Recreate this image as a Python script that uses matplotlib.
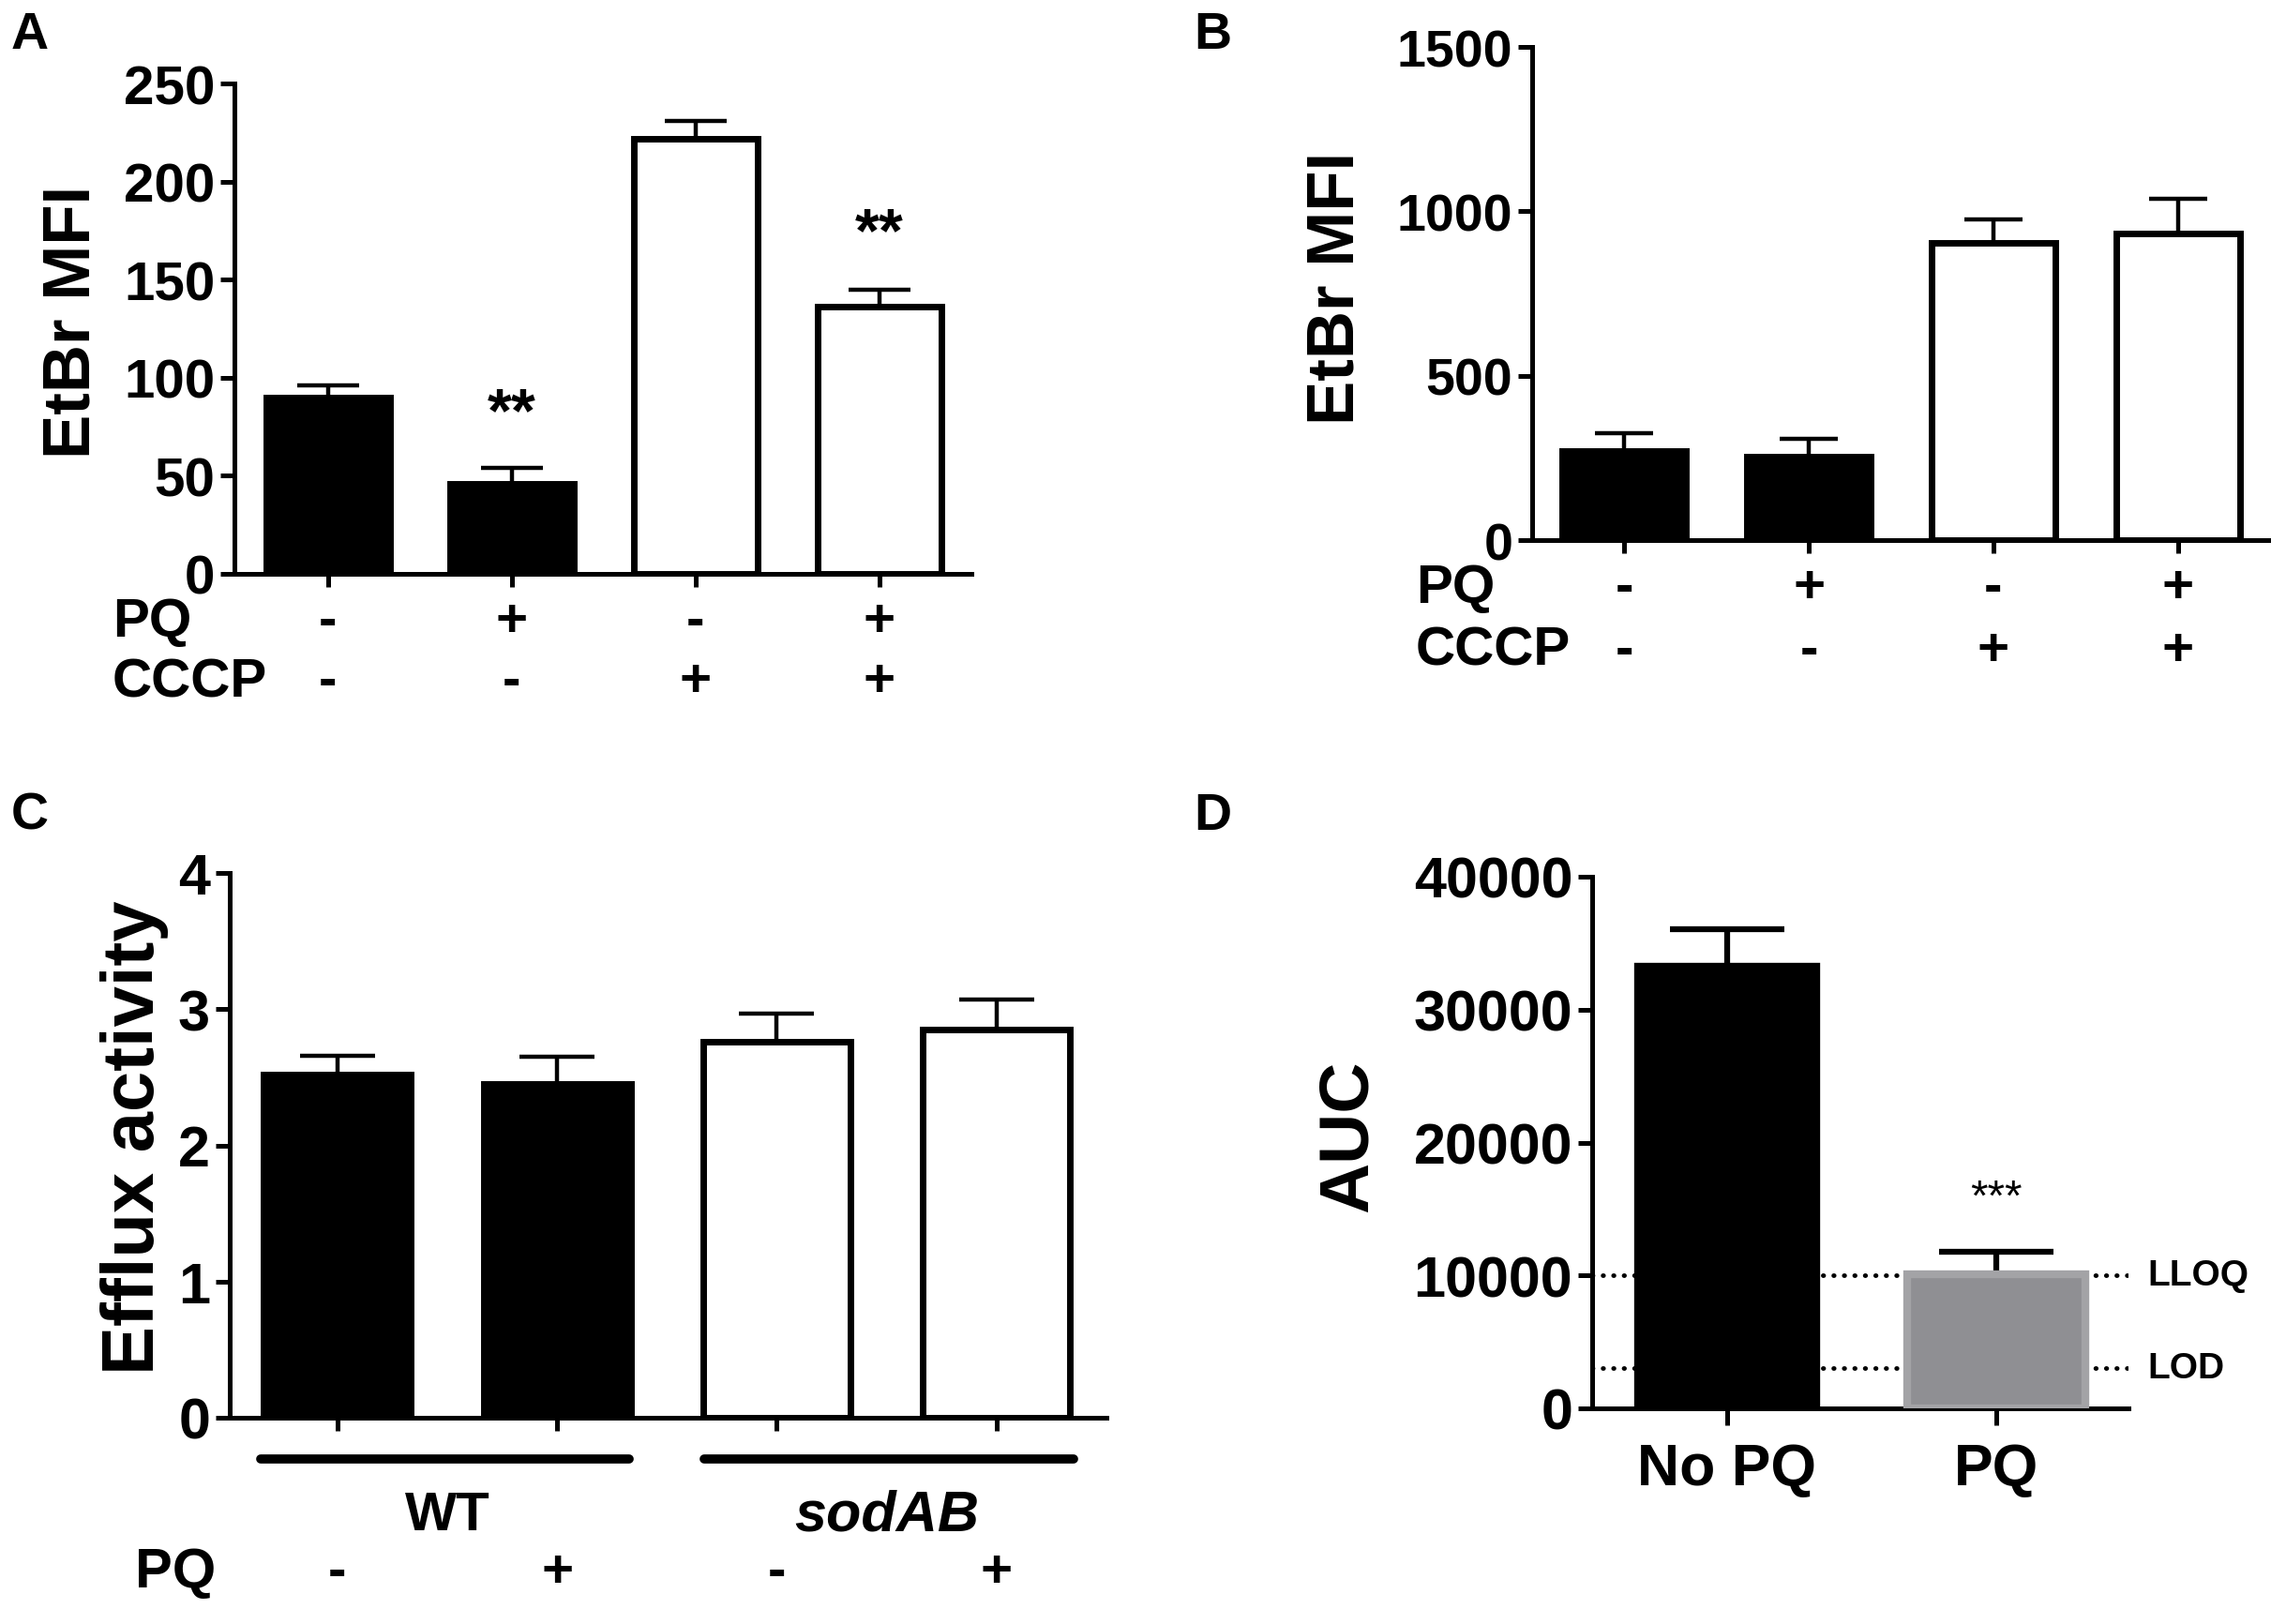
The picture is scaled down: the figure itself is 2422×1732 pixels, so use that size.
import numpy as np
import matplotlib
matplotlib.use("Agg")
import matplotlib.pyplot as plt
from matplotlib import transforms

plt.rcParams['font.family'] = ['Liberation Sans', 'DejaVu Sans']
plt.rcParams['font.weight'] = 'bold'

# panel A
a_vals = [90, 46, 222, 136]
a_err = [6, 8, 9, 9]
a_pq = ['-', '+', '-', '+']
a_cccp = ['-', '-', '+', '+']
a_stars = {1: 81, 3: 173}

# panel B
b_vals = [270, 253, 904, 932]
b_err = [55, 54, 72, 107]
b_pq = ['-', '+', '-', '+']
b_cccp = ['-', '-', '+', '+']

# panel C
c_vals = [2.52, 2.45, 2.76, 2.85]
c_err = [0.14, 0.2, 0.21, 0.22]
c_pq = ['-', '+', '-', '+']
c_groups = ['WT', 'sodAB']

# panel D
d_labels = ['No PQ', 'PQ']
d_vals = [33200, 10100]
d_err = [2850, 1650]
d_lloq = 10000
d_lod = 3000
d_star = 15800

W, H = 2422, 1733
fig = plt.figure(figsize=(W / 100, H / 100), dpi=100)


def box(l, t, r, b):
    return [l / W, 1 - b / H, (r - l) / W, (b - t) / H]


def style_ax(ax, ylim, yticks, fs=42):
    ax.spines['top'].set_visible(False)
    ax.spines['right'].set_visible(False)
    ax.spines['left'].set_linewidth(3.6)
    ax.spines['bottom'].set_linewidth(3.6)
    ax.set_ylim(*ylim)
    ax.set_yticks(yticks)
    ax.tick_params(axis='y', direction='out', length=11, width=3.6, labelsize=fs, pad=4)
    ax.tick_params(axis='x', direction='out', length=10, width=3.6)
    for t in ax.get_yticklabels():
        t.set_fontweight('bold')


def bars(ax, vals, err, colors, capsize, width=0.67, lw=5, elw=3.2):
    x = np.arange(len(vals))
    ax.errorbar(x, vals, yerr=[np.zeros(len(vals)), err], fmt='none', ecolor='k',
                elinewidth=elw, capsize=capsize, capthick=elw, zorder=2)
    ax.bar(x, vals, width=width, color=colors, edgecolor='k', linewidth=lw, zorder=3)
    ax.set_xticks(x)
    ax.set_xticklabels([''] * len(vals))
    return x


# ---- A
axA = fig.add_axes(box(250, 90, 1036, 613))
xa = bars(axA, a_vals, a_err, ['k', 'k', 'w', 'w'], capsize=24)
axA.set_xlim(-0.51, 3.5)
style_ax(axA, (0, 250), [0, 50, 100, 150, 200, 250])
for i, v in a_stars.items():
    axA.text(i, v, '**', ha='center', va='center', fontsize=48)
trA = transforms.blended_transform_factory(axA.transData, fig.transFigure)
for i in xa:
    axA.text(i, 1 - 664 / H, a_pq[i], ha='center', va='center', fontsize=42, transform=trA)
    axA.text(i, 1 - 728 / H, a_cccp[i], ha='center', va='center', fontsize=42, transform=trA)
fig.text(120 / W, 1 - 664 / H, 'PQ', ha='left', va='center', fontsize=42)
fig.text(120 / W, 1 - 728 / H, 'CCCP', ha='left', va='center', fontsize=42)
fig.text(78 / W, 1 - 343 / H, 'EtBr MFI', rotation=90, ha='center', va='center', fontsize=51)
fig.text(12 / W, 1 - 12 / H, 'A', ha='left', va='top', fontsize=40)

# ---- B
axB = fig.add_axes(box(1634, 51, 2421, 577))
xb = bars(axB, b_vals, b_err, ['k', 'k', 'w', 'w'], capsize=22)
axB.set_xlim(-0.5, 3.5)
style_ax(axB, (0, 1500), [0, 500, 1000, 1500], fs=40)
trB = transforms.blended_transform_factory(axB.transData, fig.transFigure)
for i in xb:
    axB.text(i, 1 - 628 / H, b_pq[i], ha='center', va='center', fontsize=42, transform=trB)
    axB.text(i, 1 - 695 / H, b_cccp[i], ha='center', va='center', fontsize=42, transform=trB)
fig.text(1510 / W, 1 - 628 / H, 'PQ', ha='left', va='center', fontsize=42)
fig.text(1510 / W, 1 - 695 / H, 'CCCP', ha='left', va='center', fontsize=42)
fig.text(1426 / W, 1 - 307 / H, 'EtBr MFI', rotation=90, ha='center', va='center', fontsize=51)
fig.text(1273 / W, 1 - 12 / H, 'B', ha='left', va='top', fontsize=40)

# ---- C
axC = fig.add_axes(box(245, 932, 1180, 1513))
xc = bars(axC, c_vals, c_err, ['k', 'k', 'w', 'w'], capsize=29)
axC.set_xlim(-0.49, 3.5)
style_ax(axC, (0, 4), [0, 1, 2, 3, 4], fs=44)
trC = transforms.blended_transform_factory(axC.transData, fig.transFigure)
axC.plot([-0.35, 1.33], [1 - 1557 / H] * 2, color='k', lw=7, solid_capstyle='round',
         transform=trC, clip_on=False)
axC.plot([1.67, 3.35], [1 - 1557 / H] * 2, color='k', lw=7, solid_capstyle='round',
         transform=trC, clip_on=False)
axC.text(0.5, 1 - 1617 / H, c_groups[0], ha='center', va='center', fontsize=42, transform=trC)
axC.text(2.5, 1 - 1617 / H, c_groups[1], ha='center', va='center', fontsize=44,
         style='italic', transform=trC)
for i in xc:
    axC.text(i, 1 - 1678 / H, c_pq[i], ha='center', va='center', fontsize=42, transform=trC)
fig.text(144 / W, 1 - 1678 / H, 'PQ', ha='left', va='center', fontsize=43)
fig.text(143 / W, 1 - 1213 / H, 'Efflux activity', rotation=90, ha='center', va='center', fontsize=56)
fig.text(12 / W, 1 - 845 / H, 'C', ha='left', va='top', fontsize=40)

# ---- D
axD = fig.add_axes(box(1698, 936, 2270, 1503))
xd = np.arange(len(d_vals))
axD.axhline(d_lloq, color='k', lw=3.5, ls=(0, (0.1, 2.2)), dash_capstyle='round', zorder=1)
axD.axhline(d_lod, color='k', lw=3.5, ls=(0, (0.1, 2.2)), dash_capstyle='round', zorder=1)
axD.errorbar(xd, d_vals, yerr=[np.zeros(2), d_err], fmt='none', ecolor='k',
             elinewidth=4.5, capsize=44, capthick=4.5, zorder=2)
axD.bar(xd, d_vals, width=0.66, color=['k', '#8f8f93'], edgecolor=['k', '#a3a3a6'],
        linewidth=6, zorder=3)
axD.set_xticks(xd)
axD.set_xticklabels(d_labels, fontsize=45, fontweight='bold')
axD.set_xlim(-0.5, 1.49)
style_ax(axD, (0, 40000), [0, 10000, 20000, 30000, 40000], fs=44)
axD.tick_params(axis='x', length=13, pad=12)
axD.text(xd[1], d_star, '***', ha='center', va='center', fontsize=34, fontweight='normal')
trD = transforms.blended_transform_factory(axD.transAxes, axD.transData)
axD.text(1.035, d_lloq, 'LLOQ', ha='left', va='center', fontsize=28, transform=trD, clip_on=False)
axD.text(1.035, d_lod, 'LOD', ha='left', va='center', fontsize=28, transform=trD, clip_on=False)
fig.text(1438 / W, 1 - 1212 / H, 'AUC', rotation=90, ha='center', va='center', fontsize=54)
fig.text(1273 / W, 1 - 845 / H, 'D', ha='left', va='top', fontsize=40)

fig.savefig('out.png', dpi=100, facecolor='white')
